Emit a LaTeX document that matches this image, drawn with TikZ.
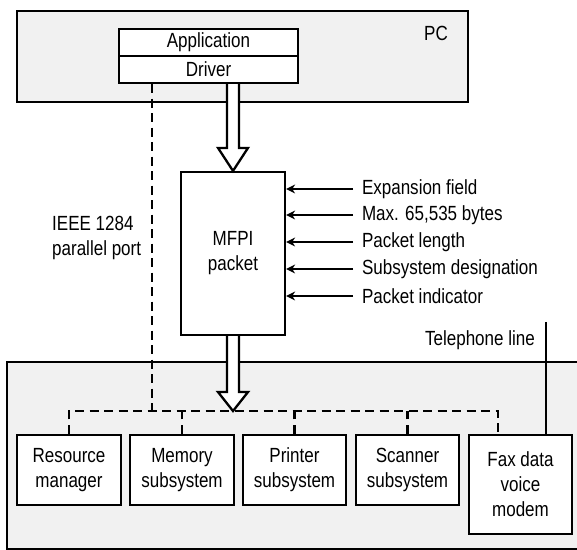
\documentclass[tikz,border=0pt]{standalone}
\usepackage{fontspec}
\setmainfont{Liberation Sans}[FakeStretch=0.83]
\usetikzlibrary{calc,arrows.meta}
\definecolor{panelgray}{HTML}{F1F1F1}
\begin{document}
\begin{tikzpicture}[x=1pt,y=-1pt,
  txt/.style={font=\fontsize{20.5}{25}\selectfont, inner sep=0pt, align=center},
  box/.style={txt, draw, line width=2.2pt, fill=white},
  panel/.style={draw, line width=2.6pt, fill=panelgray},
  bus/.style={line width=2.5pt, dash pattern=on 9pt off 5.5pt},
  feed/.style={line width=2.3pt, -{Stealth[length=9pt,width=9pt]}},
  hollow/.style={draw, line width=2.3pt, fill=white, line join=miter},
  lbl/.style={txt, anchor=west, outer xsep=9pt, outer ysep=0pt}]
\useasboundingbox (0,0) rectangle (577,549);

% PC enclosure
\node[panel, minimum width=451pt, minimum height=91pt, inner sep=0pt] (pc) at (242.5,56.5) {};
\node[txt] (pclabel) at (436,33) {PC};
\node[box, minimum width=179pt, minimum height=27pt] (app) at (208.5,42.5) {Application};
\node[box, minimum width=179pt, minimum height=27pt] (driver) at (208.5,69.5) {Driver};

% peripheral enclosure, running off the right and bottom edges
\begin{scope}
  \clip (0,0) rectangle (577,549);
  \path[panel] (7,362) rectangle (600,549);
\end{scope}
\node[txt, inner sep=0pt] (telabel) at (535,340) [anchor=east] {Telephone line};

% MFPI packet and its fields
\node[box, minimum width=104pt, minimum height=163pt] (mfpi) at (233,253.5) {MFPI\\packet};
\node[lbl] (f1) at (353,189) {Expansion field};
\node[lbl] (f2) at (353,215) {Max. 65,535 bytes};
\node[lbl] (f3) at (353,242) {Packet length};
\node[lbl] (f4) at (353,269) {Subsystem designation};
\node[lbl] (f5) at (353,296) {Packet indicator};
\foreach \f in {f1,f2,f3,f4,f5}
  \draw[feed] (\f.west) -- (\f.west -| mfpi.east);

\node[txt, align=left] (ieee) at (52,237.5) [anchor=west] {IEEE 1284\\parallel port};

% subsystems
\node[box, minimum width=104pt, minimum height=70pt] (res) at (69,470) {Resource\\manager};
\node[box, minimum width=104pt, minimum height=70pt] (mem) at (182,470) {Memory\\subsystem};
\node[box, minimum width=103pt, minimum height=70pt] (prn) at (294.5,470) {Printer\\subsystem};
\node[box, minimum width=103pt, minimum height=70pt] (scn) at (407.5,470) {Scanner\\subsystem};
\node[box, minimum width=103pt, minimum height=99pt] (fax) at (520.5,484.5) {Fax data\\voice\\modem};

% internal bus and parallel port
\coordinate (bus) at (233,411);
\coordinate (faxdrop) at ($(fax.north west)+(30,0)$);
\coordinate (port) at ($(driver.south west)+(34,0)$);
\draw[bus] (res.north) |- (bus) -| (faxdrop);
\draw[bus] (mem.north) -- (mem.north |- bus);
\draw[bus] (prn.north) -- (prn.north |- bus);
\draw[bus] (scn.north) -- (scn.north |- bus);
\draw[bus] (port) -- (port |- bus);

% telephone line into the modem
\coordinate (tel) at ($(fax.north east)+(-27,-112)$);
\draw[line width=2.3pt] (tel) -- (tel |- fax.north);

% hollow transfer arrows
\draw[hollow] let \p1=(mfpi.north |- driver.south), \p2=(mfpi.north) in
  (\x1-6pt,\y1) -- (\x1-6pt,\y2+23pt) -- (\x1-15pt,\y2+23pt) -- (\x2,\y2)
  -- (\x1+15pt,\y2+23pt) -- (\x1+6pt,\y2+23pt) -- (\x1+6pt,\y1);
\draw[hollow] let \p1=(mfpi.south), \p2=(bus) in
  (\x1-6pt,\y1) -- (\x1-6pt,\y2+19pt) -- (\x1-15pt,\y2+19pt) -- (\x2,\y2)
  -- (\x1+15pt,\y2+19pt) -- (\x1+6pt,\y2+19pt) -- (\x1+6pt,\y1);
\end{tikzpicture}
\end{document}
